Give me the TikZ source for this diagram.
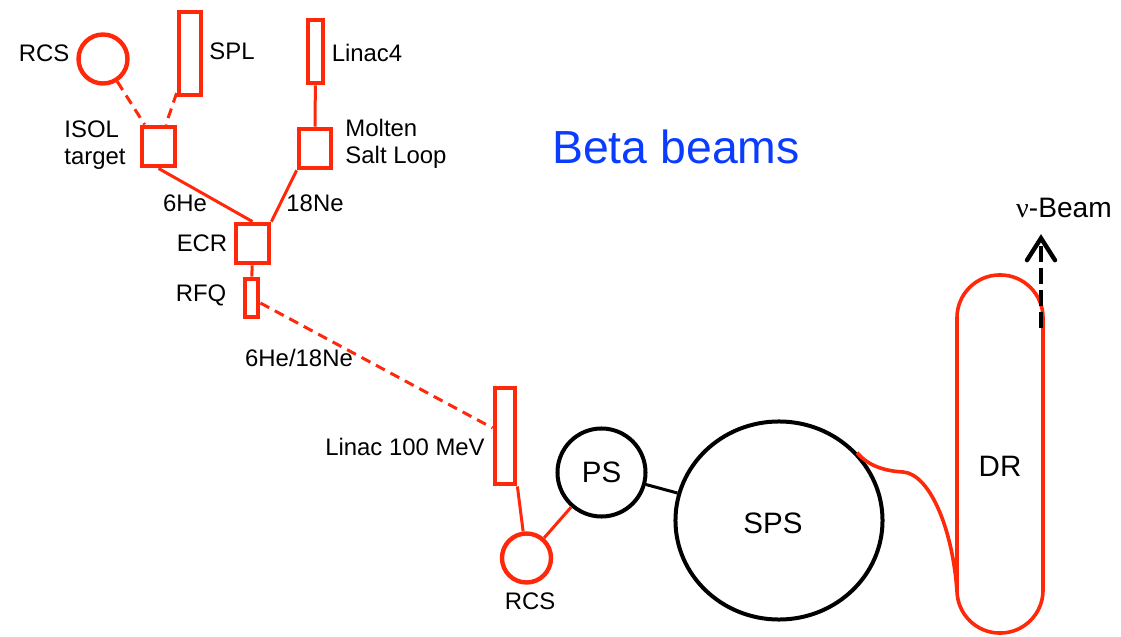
\documentclass[tikz,border=0pt]{standalone}
\usepackage{fontspec}
\setmainfont{Liberation Sans}
\newfontfamily\nufont{Liberation Serif}
\usetikzlibrary{arrows.meta,shapes.geometric}
\definecolor{beamred}{RGB}{255,40,10}
\definecolor{titleblue}{RGB}{10,60,255}
\newcommand{\lblsize}{\fontsize{17}{19}\selectfont}
\newcommand{\ringsize}{\fontsize{21}{24}\selectfont}

\begin{document}
\begin{tikzpicture}[x=0.025cm, y=-0.025cm, font=\lblsize,
  box/.style={draw=beamred, line width=1.2mm, inner sep=0pt},
  redring/.style={box, line width=1.1mm, circle, minimum size=12.25mm},
  ring/.style={draw=black, line width=1mm, inner sep=0pt, font=\ringsize},
  feed/.style={draw=beamred, line width=0.75mm},
  feeddash/.style={feed, dash pattern=on 2.5mm off 1.6mm},
  lbl/.style={inner sep=0pt}]
\useasboundingbox (0,0) rectangle (1121,637);
% source side
\node[redring] (rcsA) at (103,59) {};
\node[box, minimum width=5.5mm, minimum height=20.75mm] (spl) at (190,53.5) {};
\node[box, minimum width=3.75mm, minimum height=15.75mm] (linfour) at (315.5,51.5) {};
\node[box, minimum width=8.25mm, minimum height=9.75mm] (isol) at (158.5,146.5) {};
\node[box, minimum width=8mm, minimum height=9.75mm] (molten) at (315,148.5) {};
\node[box, minimum width=8.25mm, minimum height=9.75mm] (ecr) at (252.5,243.5) {};
\node[box, minimum width=3.25mm, minimum height=9.5mm] (rfq) at (251.5,298) {};
\node[lbl] (rcsAlbl) at (44,53) {RCS};
\node[lbl] (spllbl) at (232,51) {SPL};
\node[lbl] (linfourlbl) at (367,53) {Linac4};
\node[lbl, align=left] (isollbl) at (95,145) {ISOL\\target};
\node[lbl, align=left] (moltenlbl) at (396,144) {Molten\\Salt Loop};
\node[lbl] (helbl) at (185,203) {6He};
\node[lbl] (nelbl) at (315,203) {18Ne};
\node[lbl] (ecrlbl) at (202,243) {ECR};
\node[lbl] (rfqlbl) at (201,295) {RFQ};
\draw[feeddash] (rcsA) -- (isol);
\draw[feeddash] (spl) -- (isol);
\draw[feed] (linfour) -- (molten);
\draw[feed] (isol.south) -- (ecr.north);
\draw[feed] (molten.south west) -- (ecr.north east);
\draw[feed] (ecr) -- (rfq);
% acceleration
\node[box, minimum width=5mm, minimum height=24mm] (linhund) at (505,436) {};
\node[redring] (rcsB) at (526.5,558) {};
\node[ring, circle, minimum size=22mm] (ps) at (601.5,472.5) {PS};
\node[ring, ellipse, minimum width=51.75mm, minimum height=49.5mm] (sps) at (779,520.5) {};
\node[lbl, font=\ringsize] (spslbl) at (773,523) {SPS};
\node[lbl] (mixlbl) at (299,358) {6He/18Ne};
\node[lbl] (linhundlbl) at (405,447) {Linac 100 MeV};
\node[lbl] (rcsBlbl) at (530,601) {RCS};
\draw[feeddash] ([yshift=-1.25mm]rfq.east) -- ([yshift=2mm]linhund.west);
\draw[feed] (linhund.south east) -- (rcsB);
\draw[feed] (rcsB) -- (ps);
\draw[line width=0.75mm] (ps) -- (sps);
% decay ring
\node[draw=beamred, line width=0.9mm, rounded corners=10.7mm, minimum width=21.5mm, minimum height=89.5mm, inner sep=0pt] (dr) at (1000,454) {};
\node[lbl, font=\ringsize] (drlbl) at (1000,466) {DR};
\coordinate (drin) at (957,592);
\draw[feed, line width=0.9mm] (sps.41) .. controls (868,466) and (885,471) .. (903,472) .. controls (930,474) and (953,530) .. (drin);
\coordinate (ext) at (1041,328);
\node[lbl, font=\fontsize{20}{22}\selectfont] (nubeam) at (1064,208) {{\nufont ν}-Beam};
\draw[line width=1.1mm, dash pattern=on 4mm off 1.5mm, shorten >=4mm, -{Straight Barb[length=5.5mm, width=7mm, line cap=round]}] (ext) -- (ext |- nubeam.south);
\node[lbl, text=titleblue, font=\fontsize{33}{36}\selectfont] (title) at (676,147) {Beta beams};
\end{tikzpicture}
\end{document}
